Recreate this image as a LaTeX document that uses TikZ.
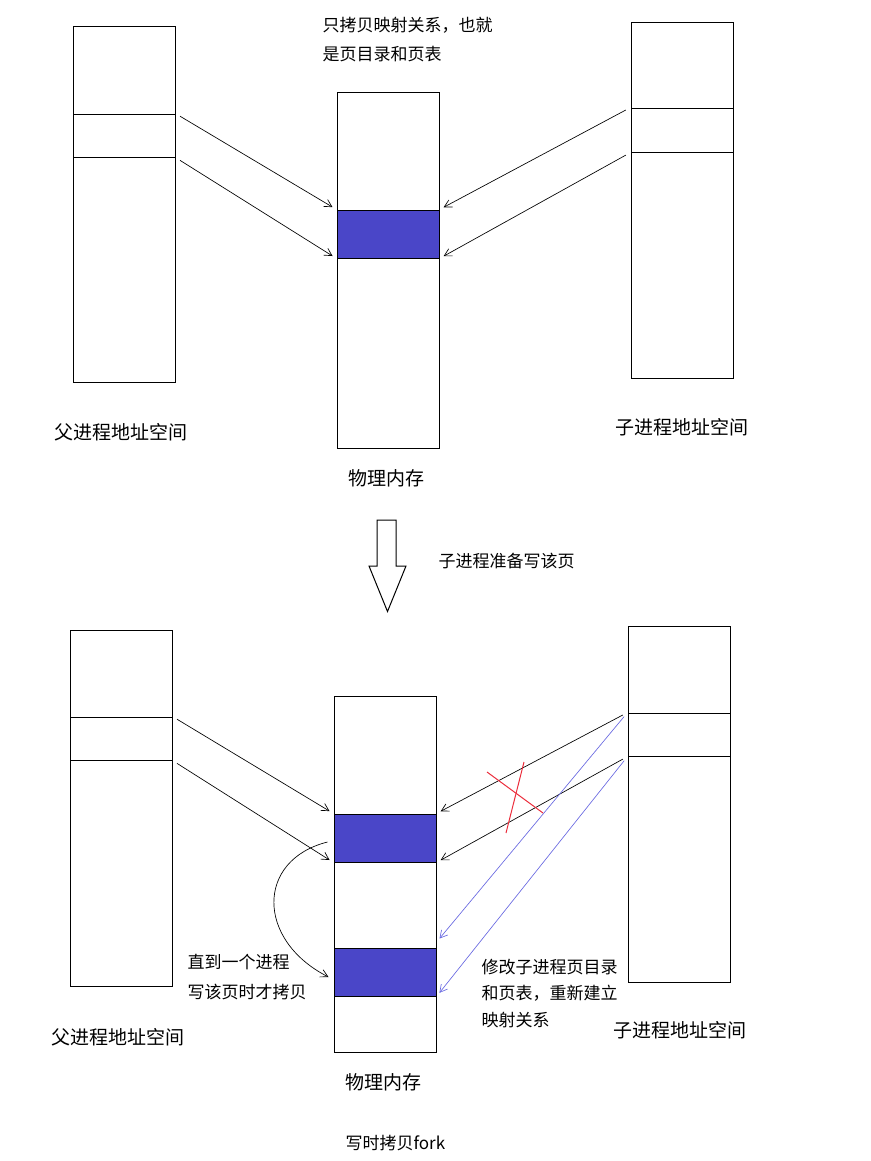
\documentclass[tikz,border=0pt]{standalone}
\usepackage{fontspec}
\setmainfont{Noto Sans CJK SC}
\usetikzlibrary{arrows.meta}

\definecolor{pageblue}{RGB}{74,70,200}
\definecolor{remapblue}{RGB}{105,105,225}
\definecolor{crossred}{RGB}{235,45,60}

\tikzset{every picture/.style={line width=0.75pt}}
\tikzset{
  space/.style={draw, minimum width=76.5pt, minimum height=267pt, inner sep=0pt},
  slot/.style={draw, minimum width=76.5pt, minimum height=#1, inner sep=0pt},
  page/.style={draw, fill=pageblue, minimum width=76.5pt, minimum height=36pt, inner sep=0pt},
  map/.style={-{Straight Barb[length=5.5pt,width=6pt]}, line width=0.5pt, shorten <=4pt, shorten >=3.5pt},
  remap/.style={map, draw=remapblue},
  caption/.style={font=\fontsize{14.25}{17}\selectfont, inner sep=0pt},
  note/.style={font=\fontsize{12.75}{#1}\selectfont, align=left, anchor=west, inner sep=0pt},
  note/.default=21.75pt
}

\begin{document}
\begin{tikzpicture}[x=0.75pt,y=0.75pt,yscale=-1,xscale=1]
        \useasboundingbox (0,0) rectangle (871,1161);
        % before the write
        \node[space] (parent) at (124,204) {};
        \node[slot=32.25pt] (pslot) at (124,135.5) {};
        \node[space] (mem) at (388,270) {};
        \node[page] (mpage) at (388,234) {};
        \node[space] (child) at (682,200) {};
        \node[slot=33pt] (cslot) at (682,130) {};
        \draw[map] (pslot.north east) -- (mpage.north west);
        \draw[map] (pslot.south east) -- (mpage.south west);
        \draw[map] (cslot.north west) -- (mpage.north east);
        \draw[map] (cslot.south west) -- (mpage.south east);
        \node[note] (share) at (322,39.5) {只拷贝映射关系，也就\\是页目录和页表};
        \node[caption] (plabel) at (121,432) {父进程地址空间};
        \node[caption] (mlabel) at (386.5,478) {物理内存};
        \node[caption] (clabel) at (682,427.5) {子进程地址空间};
        % step arrow
        \draw (377,520) -- (396,520) -- (396,566) -- (406,566) -- (387.5,611.5) -- (369,566) -- (377,566) -- cycle ;
        \node[note] (step) at (438,561) {子进程准备写该页};
        % after the write
        \node[space] (parent2) at (121,808) {};
        \node[slot=32.25pt] (pslot2) at (121,738.5) {};
        \node[space] (mem2) at (385,874) {};
        \node[page] (page2a) at (385,838) {};
        \node[page] (page2b) at (385,972) {};
        \node[space] (child2) at (679,804) {};
        \node[slot=32.25pt] (cslot2) at (679,734.5) {};
        \draw[map] (pslot2.north east) -- (page2a.north west);
        \draw[map] (pslot2.south east) -- (page2a.south west);
        \draw[map] (cslot2.north west) -- (page2a.north east);
        \draw[map] (cslot2.south west) -- (page2a.south east);
        \draw[remap] (cslot2.north west) -- ([yshift=-4]page2b.north east);
        \draw[remap] (cslot2.south west) -- (page2b.south east);
        \draw[map, shorten <=0pt, shorten >=0pt] ([shift={(-6,4)}]page2a.west) .. controls (256,860) and (256,940) .. ([shift={(-5,5)}]page2b.west);
        % crossed out
        \draw[crossred] (487,772) -- (543,813);
        \draw[crossred] (524,762) -- (506,833);
        \node[note=22.5pt] (copy) at (187,977) {直到一个进程\\写该页时才拷贝};
        \node[note=20pt] (modify) at (481,993.5) {修改子进程页目录\\和页表，重新建立\\映射关系};
        \node[caption] (plabel2) at (117.5,1037) {父进程地址空间};
        \node[caption] (mlabel2) at (383,1082) {物理内存};
        \node[caption] (clabel2) at (680,1030) {子进程地址空间};
        \node[note] (title) at (345,1143) {写时拷贝fork};
\end{tikzpicture}
\end{document}
